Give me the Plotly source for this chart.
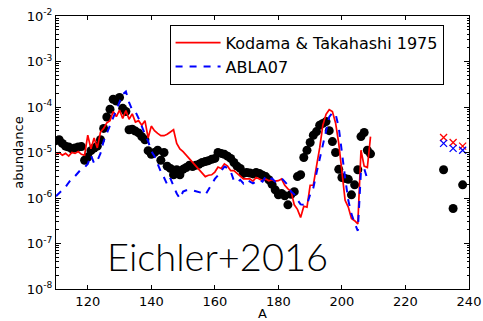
import plotly.graph_objects as go

# Mass numbers
mass_kt = list(range(110, 210))
mass_abla = list(range(110, 209))
mass_solar = list(range(110, 210))
mass_actinide = [232, 235, 238]

# log10 abundances: Kodama & Takahashi 1975 model
log_kt = [
    -5.05, -5.00, -5.06, -5.02, -5.08, -5.00, -5.02, -4.98, -5.04, -5.06,
    -4.62, -4.92, -4.68, -4.90, -4.55, -4.47, -4.35, -4.30, -4.10, -4.21,
    -4.07, -4.25, -4.08, -4.27, -4.15, -4.33, -4.30, -4.40, -4.30, -4.68,
    -4.42, -4.52, -4.58, -4.63, -4.63, -4.60, -4.55, -4.50, -4.80, -4.92,
    -4.98, -5.06, -5.15, -5.22, -5.30, -5.37, -5.45, -5.53, -5.50, -5.49,
    -5.43, -5.32, -5.35, -5.25, -5.30, -5.40, -5.40, -5.46, -5.50, -5.58,
    -5.58, -5.58, -5.63, -5.55, -5.58, -5.62, -5.58, -5.62, -5.60, -5.63,
    -5.62, -5.58, -5.72, -5.80, -5.85, -6.15, -6.25, -6.43, -6.18, -6.20,
    -5.72, -5.72, -5.30, -4.90, -4.40, -4.16, -4.06, -4.10, -4.35, -4.80,
    -5.42, -6.05, -6.20, -6.45, -6.50, -6.57, -4.95, -5.30, -5.33, -4.65,
]

# log10 abundances: ABLA07 model
log_abla = [
    -5.96, -5.90, -5.83, -5.76, -5.66, -5.57, -5.52, -5.44, -5.36, -5.33,
    -5.25, -5.06, -5.24, -5.18, -5.02, -4.75, -4.58, -4.40, -4.20, -4.03,
    -3.86, -3.72, -3.66, -3.90, -4.07, -4.10, -4.25, -4.45, -4.60, -4.75,
    -4.97, -5.08, -5.26, -5.42, -5.55, -5.70, -5.57, -5.75, -5.90, -6.01,
    -5.86, -5.83, -5.82, -5.83, -5.85, -5.87, -5.89, -5.93, -5.82, -5.68,
    -5.58, -5.50, -5.40, -5.31, -5.34, -5.42, -5.62, -5.66, -5.60, -5.68,
    -5.60, -5.64, -5.68, -5.64, -5.60, -5.64, -5.53, -5.60, -5.57, -5.64,
    -5.60, -5.57, -5.64, -5.72, -5.86, -5.92, -6.04, -6.14, -6.15, -6.15,
    -5.92, -5.78, -5.45, -5.15, -4.88, -4.58, -4.22, -4.13, -4.15, -4.45,
    -5.05, -5.55, -6.05, -6.35, -6.55, -6.72, -5.40, -5.35, -5.58,
]

# log10 abundances: solar r-process pattern
log_solar = [
    -4.74, -4.72, -4.80, -4.86, -4.88, -4.92, -4.90, -4.88, -4.87, -5.17,
    -5.10, -4.96, -4.90, -4.86, -4.72, -4.47, -4.22, -4.05, -3.83, -3.87,
    -3.79, -4.03, -4.10, -4.50, -4.49, -4.53, -4.57, -4.65, -4.72, -4.96,
    -5.04, -5.00, -4.95, -5.17, -5.00, -5.30, -5.35, -5.49, -5.38, -5.49,
    -5.37, -5.33, -5.28, -5.31, -5.28, -5.26, -5.22, -5.20, -5.18, -5.15,
    -5.13, -5.00, -5.02, -5.04, -5.08, -5.13, -5.22, -5.30, -5.35, -5.46,
    -5.44, -5.45, -5.47, -5.44, -5.46, -5.50, -5.53, -5.60, -5.70, -5.82,
    -5.93, -5.90, -5.95, -6.15, -5.92, -5.86, -5.53, -5.49, -5.11, -4.95,
    -4.78, -4.62, -4.54, -4.40, -4.36, -4.32, -4.52, -4.76, -5.00, -5.37,
    -5.55, -5.57, -5.59, -5.93, -5.71, -5.38, -4.65, -4.56, -4.95, -5.03,
]

# Th/U: observed and both model predictions
log_actinide_obs = [-5.38, -6.23, -5.71]
log_actinide_kt = [-4.67, -4.78, -4.86]
log_actinide_abla = [-4.80, -4.91, -4.95]

y_tick_exp = [-8, -7, -6, -5, -4, -3, -2]

RED = "#ff0000"
BLUE = "#0000ff"


def lin(vals):
    return [10 ** v for v in vals]


fig = go.Figure()

fig.add_trace(go.Scatter(
    x=mass_solar, y=lin(log_solar), mode="markers",
    marker=dict(color="black", size=9, line=dict(width=0)),
    showlegend=False,
))
fig.add_trace(go.Scatter(
    x=mass_actinide, y=lin(log_actinide_obs), mode="markers",
    marker=dict(color="black", size=9, line=dict(width=0)),
    showlegend=False,
))
fig.add_trace(go.Scatter(
    x=mass_kt, y=lin(log_kt), mode="lines",
    line=dict(color=RED, width=1.7),
    name="Kodama & Takahashi 1975",
))
fig.add_trace(go.Scatter(
    x=mass_abla, y=lin(log_abla), mode="lines",
    line=dict(color=BLUE, width=2, dash="7px,7px"),
    name="ABLA07",
))
fig.add_trace(go.Scatter(
    x=mass_actinide, y=lin(log_actinide_kt), mode="markers",
    marker=dict(symbol="x-thin", size=7, line=dict(color=RED, width=1.3)),
    showlegend=False,
))
fig.add_trace(go.Scatter(
    x=mass_actinide, y=lin(log_actinide_abla), mode="markers",
    marker=dict(symbol="x-thin", size=7, line=dict(color=BLUE, width=1.3)),
    showlegend=False,
))

minor_vals = [k * 10.0 ** e for e in range(-8, -2) for k in range(2, 10)]

fig.update_layout(
    width=483, height=321,
    margin=dict(l=56, r=14, t=16, b=32, autoexpand=False),
    paper_bgcolor="white", plot_bgcolor="white",
    font=dict(family="DejaVu Sans", size=13, color="black"),
    xaxis=dict(
        range=[110, 240], tickvals=[120, 140, 160, 180, 200, 220, 240],
        ticks="inside", ticklen=4, tickcolor="black",
        showline=True, linecolor="black", linewidth=1, mirror="allticks",
        showgrid=False, zeroline=False, automargin=False,
        title=dict(text="A", font=dict(size=13), standoff=0),
    ),
    yaxis=dict(
        type="log", range=[-8, -2],
        tickvals=[10.0 ** e for e in y_tick_exp],
        ticktext=[f"10<sup>{e}</sup>" for e in y_tick_exp],
        ticks="inside", ticklen=5, tickcolor="black",
        minor=dict(tickvals=minor_vals, ticks="inside", ticklen=2.5,
                   tickcolor="black", showgrid=False),
        showline=True, linecolor="black", linewidth=1, mirror="allticks",
        showgrid=False, zeroline=False, automargin=False,
        title=dict(text="abundance", font=dict(size=13), standoff=0),
    ),
    legend=dict(
        x=0.275, y=0.968, xanchor="left", yanchor="top",
        bordercolor="black", borderwidth=1, bgcolor="white",
        font=dict(family="DejaVu Sans", size=16),
        itemwidth=45, tracegroupgap=0,
    ),
    annotations=[dict(
        text="Eichler+2016", xref="paper", yref="paper",
        x=0.3915, y=0.121, xanchor="center", yanchor="middle",
        showarrow=False,
        font=dict(family="Lato", size=38, color="black", weight=300),
    )],
)

fig.write_html("out.html")
